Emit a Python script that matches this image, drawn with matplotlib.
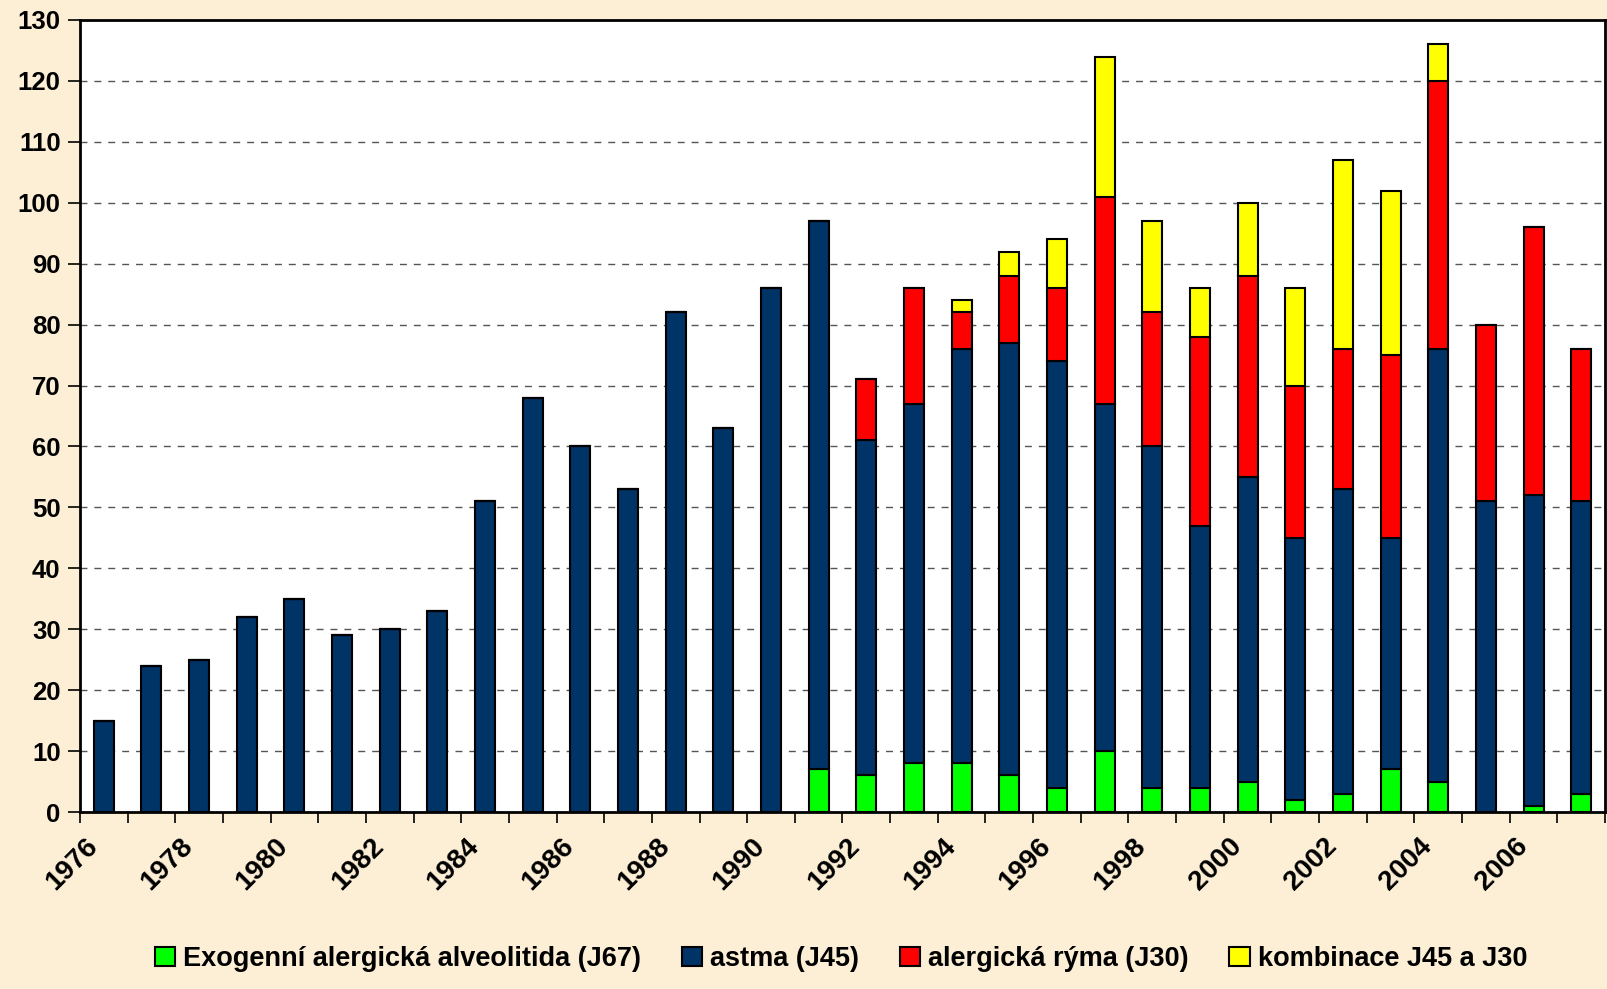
import numpy as np
import matplotlib
matplotlib.use('Agg')
from matplotlib import pyplot as plt
from matplotlib.ticker import MultipleLocator

plt.rcParams['font.family'] = ['Liberation Sans', 'DejaVu Sans']
plt.rcParams['font.weight'] = 'bold'

years = list(range(1976, 2008))
# Exogenni alergicka alveolitida (J67)
j67 = [0, 0, 0, 0, 0, 0, 0, 0, 0, 0, 0, 0, 0, 0, 0,
       7, 6, 8, 8, 6, 4, 10, 4, 4, 5, 2, 3, 7, 5, 0, 1, 3]
# astma (J45)
j45 = [15, 24, 25, 32, 35, 29, 30, 33, 51, 68, 60, 53, 82, 63, 86,
       90, 55, 59, 68, 71, 70, 57, 56, 43, 50, 43, 50, 38, 71, 51, 51, 48]
# alergicka ryma (J30)
j30 = [0, 0, 0, 0, 0, 0, 0, 0, 0, 0, 0, 0, 0, 0, 0,
       0, 10, 19, 6, 11, 12, 34, 22, 31, 33, 25, 23, 30, 44, 29, 44, 25]
# kombinace J45 a J30
komb = [0, 0, 0, 0, 0, 0, 0, 0, 0, 0, 0, 0, 0, 0, 0,
        0, 0, 0, 2, 4, 8, 23, 15, 8, 12, 16, 31, 27, 6, 0, 0, 0]

series = [
    ('Exogenní alergická alveolitida (J67)', j67, '#00FF00'),
    ('astma (J45)', j45, '#003366'),
    ('alergická rýma (J30)', j30, '#FF0000'),
    ('kombinace J45 a J30', komb, '#FFFF00'),
]

bg = '#FCEFD6'
fig = plt.figure(figsize=(16.08, 9.89), dpi=100, facecolor=bg)
ax = fig.add_axes([80/1608, 1-812/989, (1605-80)/1608, (812-20)/989])
ax.set_facecolor('white')

x = np.arange(len(years))
bottom = np.zeros(len(years))
for name, vals, col in series:
    vals = np.array(vals, dtype=float)
    ax.bar(x, vals, 0.42, bottom=bottom, color=col, edgecolor='black',
           linewidth=1.5, label=name, zorder=3)
    bottom += vals

ax.set_xlim(-0.5, len(years) - 0.5)
ax.set_ylim(0, 130)
ax.yaxis.set_major_locator(MultipleLocator(10))
ax.grid(axis='y', linestyle=(0, (5, 5)), color='#555555', linewidth=1.0, zorder=1)

# labels sit a little left of the bar centre, like the original
ax.set_xticks(x[::2] - 0.21)
ax.set_xticklabels([str(y) for y in years[::2]], rotation=45, ha='right', va='center',
                   rotation_mode='anchor', fontsize=20, fontweight='bold')
ax.set_xticks(np.arange(-0.5, len(years), 1), minor=True)
ax.tick_params(axis='x', which='major', length=0, pad=22)
ax.tick_params(axis='x', which='minor', length=8, width=1.2, direction='out')
ax.tick_params(axis='y', length=9, width=1.2, labelsize=18.5, pad=5)
for lab in ax.get_yticklabels():
    lab.set_fontweight('bold')

for sp in ax.spines.values():
    sp.set_linewidth(2)

handles, labels = ax.get_legend_handles_labels()
fig.legend(handles, labels, loc='center', bbox_to_anchor=(0.523, 1-959/989),
           ncol=4, frameon=False, handlelength=0.75, handleheight=0.75,
           handletextpad=0.3, columnspacing=1.5, prop={'weight': 'bold', 'size': 19.5})

fig.savefig('out.png', dpi=100, facecolor=bg)
